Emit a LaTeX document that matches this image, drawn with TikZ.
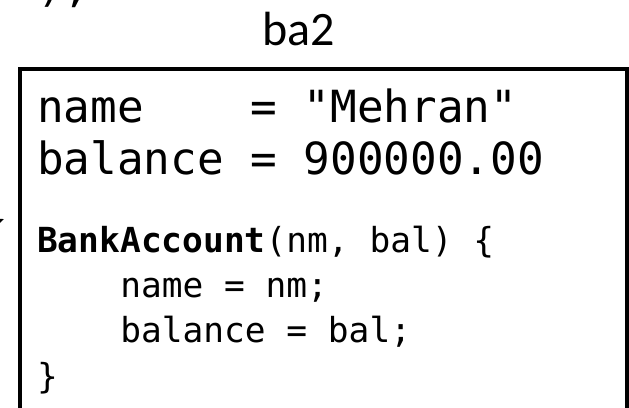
\documentclass[tikz,border=0pt]{standalone}
\usepackage{fontspec}
\setmainfont{Carlito}
\newfontfamily\codefont[WordSpace={1,0,0},PunctuationSpace=WordSpace]{DejaVu Sans Mono}
\usetikzlibrary{arrows.meta}
\frenchspacing
\begin{document}
\begin{tikzpicture}[x=1pt,y=-1pt,
  big/.style={anchor=base west,inner sep=0,font=\codefont\fontsize{44.3}{53}\selectfont},
  small/.style={anchor=base west,inner sep=0,font=\codefont\fontsize{34.5}{41}\selectfont},
  objlabel/.style={anchor=base west,inner sep=0,font=\fontsize{48}{58}\selectfont},
  objbox/.style={line width=4pt},
  ref/.style={line width=1.5pt,-{Triangle[length=10pt,width=8pt]}}]
\useasboundingbox (0,0) rectangle (629,407);
\clip (0,0) rectangle (629,407);
% object box (bottom runs past the picture)
\draw[objbox] (20,440) -- (20,68.5) -- (626.7,68.5) -- (626.7,440);
% tail of the previous code line
\node[big] (prev) at (37,1) {);};
% object name
\node[objlabel] (objname) at (262,45) {ba2};
% fields
\node[big] (fname) at (37,122) {name\ \ \ \ =\ "Mehran"};
\node[big] (fbal) at (37,174) {balance\ =\ 900000.00};
% constructor
\node[small] (c1) at (37,252) {{\bfseries BankAccount}(nm,\ bal)\ \{};
\node[small] (c2) at (37,297) {\ \ \ \ name\ =\ nm;};
\node[small] (c3) at (37,342) {\ \ \ \ balance\ =\ bal;};
\node[small] (c4) at (37,388) {\}};
% incoming reference arrow (mostly off the picture)
\coordinate (refsrc) at (-40,236);
\coordinate (reftip) at (4,219);
\draw[ref] (refsrc) -- (reftip);
\end{tikzpicture}
\end{document}
